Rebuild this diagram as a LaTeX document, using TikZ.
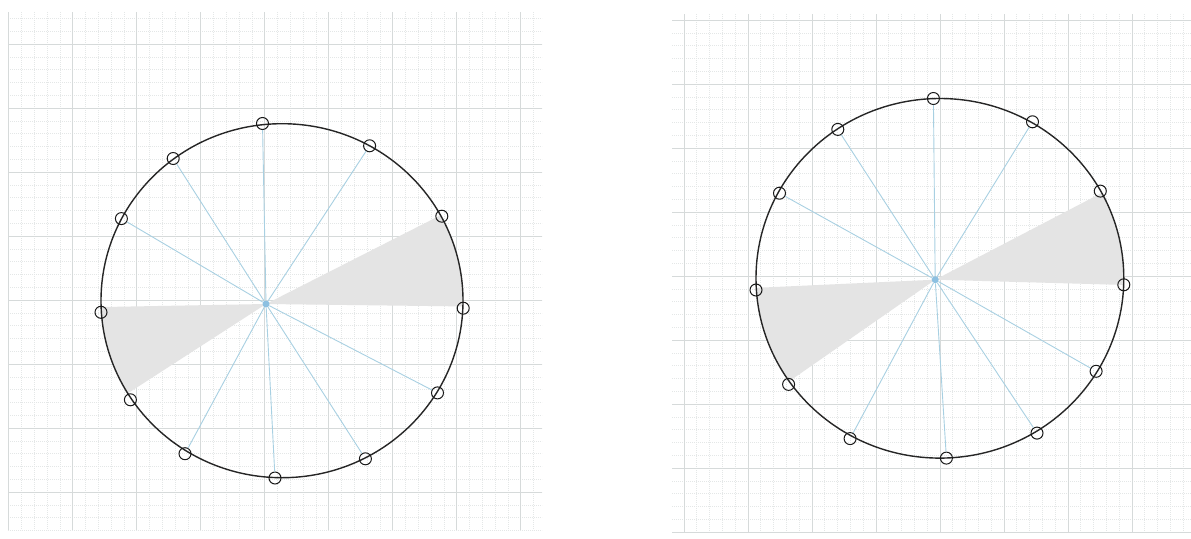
\documentclass[tikz,border=0pt]{standalone}
\usetikzlibrary{calc}
\definecolor{spokeblue}{RGB}{168,208,226}
\definecolor{hubblue}{RGB}{140,192,225}
\definecolor{wedgegray}{RGB}{228,228,228}
\definecolor{gridminor}{RGB}{228,231,231}
\definecolor{gridmajor}{RGB}{214,218,218}
\tikzset{
  marker/.style={circle, draw=black!90, line width=1pt, minimum size=12pt, inner sep=0pt},
  hub/.style={circle, fill=hubblue, minimum size=7pt, inner sep=0pt},
  spoke/.style={draw=spokeblue, line width=0.9pt},
  rim/.style={draw=black!85, line width=1.4pt},
  wedge/.style={fill=wedgegray},
  minorline/.style={draw=gridminor, line width=0.5pt, dash pattern=on 0.8pt off 1.2pt},
  majorline/.style={draw=gridmajor, line width=0.6pt}
}
\begin{document}
\begin{tikzpicture}[x=1pt,y=-1pt]
\useasboundingbox (0,0) rectangle (1191,538);
\fill[white] (0,0) rectangle (1191,538);
% ---------- graph paper, left sheet ----------
\foreach \i in {0,...,41} {
  \pgfmathsetmacro{\xx}{8.6+12.8*\i}
  \draw[minorline] (\xx,12) -- (\xx,530);
}
\foreach \j in {-2,...,38} {
  \pgfmathsetmacro{\yy}{44+12.8*\j}
  \draw[minorline] (8,\yy) -- (542,\yy);
}
\foreach \i in {0,...,8} {
  \pgfmathsetmacro{\xx}{8.6+64*\i}
  \draw[majorline] (\xx,12) -- (\xx,530);
}
\foreach \j in {0,...,7} {
  \pgfmathsetmacro{\yy}{44+64*\j}
  \draw[majorline] (8,\yy) -- (542,\yy);
}
% ---------- graph paper, right sheet ----------
\foreach \i in {0,...,39} {
  \pgfmathsetmacro{\xx}{683.9+12.8*\i}
  \draw[minorline] (\xx,14) -- (\xx,532);
}
\foreach \j in {0,...,40} {
  \pgfmathsetmacro{\yy}{20+12.8*\j}
  \draw[minorline] (672,\yy) -- (1191,\yy);
}
\foreach \i in {0,...,7} {
  \pgfmathsetmacro{\xx}{683.9+64*\i}
  \draw[majorline] (\xx,14) -- (\xx,532);
}
\foreach \j in {0,...,8} {
  \pgfmathsetmacro{\yy}{20+64*\j}
  \draw[majorline] (672,\yy) -- (1191,\yy);
}
% ---------- left circle: wedges ----------
\begin{scope}
  \clip (282,300.7) ellipse [x radius=181pt, y radius=177pt];
  \fill[wedge] (266,304) -- (598,135.2) -- (655.4,308.8) -- cycle;
  \fill[wedge] (266,304) -- (-58.8,310) -- (-3.2,478) -- cycle;
\end{scope}
% ---------- right circle: wedges ----------
\begin{scope}
  \clip (939.9,278.3) ellipse [x radius=183.9pt, y radius=179.8pt];
  \fill[wedge] (935.2,279.7) -- (1251.4,114.9) -- (1304,289.9) -- cycle;
  \fill[wedge] (935.2,279.7) -- (587.2,295.5) -- (654,475.3) -- cycle;
\end{scope}
% ---------- left circle ----------
\draw[rim] (282,300.7) ellipse [x radius=181pt, y radius=177pt];
\node[hub] (LC) at (266,304) {};
\node[marker] (L1) at (262.5,123.5) {};
\node[marker] (L2) at (369.6,145.8) {};
\node[marker] (L3) at (441.8,216.2) {};
\node[marker] (L4) at (463.2,308.2) {};
\node[marker] (L5) at (437.5,392.9) {};
\node[marker] (L6) at (365.4,458.8) {};
\node[marker] (L7) at (275,478) {};
\node[marker] (L8) at (185,453.7) {};
\node[marker] (L9) at (130.4,399.8) {};
\node[marker] (L10) at (101,312.3) {};
\node[marker] (L11) at (121.4,218.6) {};
\node[marker] (L12) at (173.2,158.5) {};
\foreach \k in {1,2,5,6,7,8,11,12} {
  \draw[spoke] (LC) -- (L\k);
}
% ---------- right circle ----------
\draw[rim] (939.9,278.3) ellipse [x radius=183.9pt, y radius=179.8pt];
\node[hub] (RC) at (935.2,279.7) {};
\node[marker] (R1) at (933.4,98.5) {};
\node[marker] (R2) at (1032.5,121.8) {};
\node[marker] (R3) at (1100.3,191.1) {};
\node[marker] (R4) at (1123.8,284.8) {};
\node[marker] (R5) at (1096.1,371.3) {};
\node[marker] (R6) at (1037.0,433.1) {};
\node[marker] (R7) at (946.4,458.1) {};
\node[marker] (R8) at (850.1,438.6) {};
\node[marker] (R9) at (788.6,384.4) {};
\node[marker] (R10) at (756.0,290.0) {};
\node[marker] (R11) at (779.5,193.2) {};
\node[marker] (R12) at (837.8,129.4) {};
\foreach \k in {1,2,5,6,7,8,11,12} {
  \draw[spoke] (RC) -- (R\k);
}
\end{tikzpicture}
\end{document}
